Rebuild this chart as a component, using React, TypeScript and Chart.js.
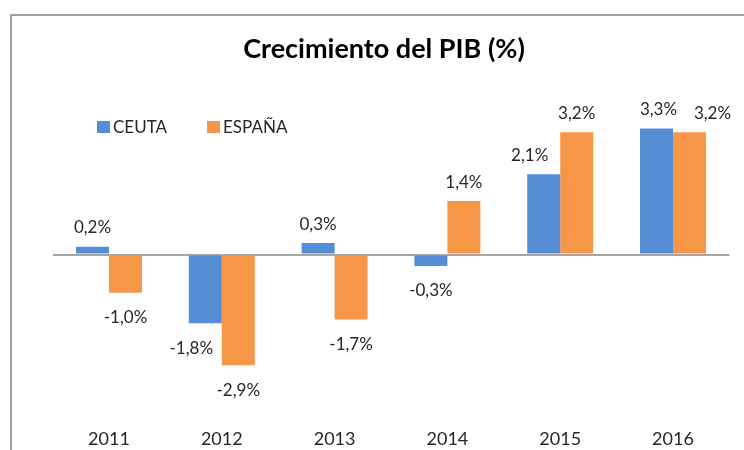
import React, { useEffect, useRef } from "react";
import { Chart, registerables } from "chart.js";

Chart.register(...registerables);

const categories = ["2011", "2012", "2013", "2014", "2015", "2016"];
const ceutaValues = [0.2, -1.8, 0.3, -0.3, 2.1, 3.3];
const espanaValues = [-1.0, -2.9, -1.7, 1.4, 3.2, 3.2];
const seriesNames = ["CEUTA", "ESPAÑA"];
const chartTitle = "Crecimiento del PIB (%)";

// manual horizontal nudges of some data labels (dataset-index:point-index -> px), as in the original
const labelNudge: Record<string, number> = { "0:1": -14, "0:4": -14, "0:5": 2, "1:5": 23 };

const BLUE = "#558ED5";
const ORANGE = "#F79646";
const TEXT = "#262626";
const FONT = "Lato, 'Open Sans', sans-serif";

const fmt = (v: number) => v.toFixed(1).replace(".", ",") + "%";

const decorPlugin = {
  id: "decor",
  afterDatasetsDraw(chart: any) {
    const ctx = chart.ctx;
    ctx.save();
    // data labels
    ctx.font = `17px ${FONT}`;
    ctx.fillStyle = TEXT;
    ctx.textAlign = "center";
    ctx.textBaseline = "middle";
    chart.data.datasets.forEach((ds: any, di: number) => {
      const meta = chart.getDatasetMeta(di);
      meta.data.forEach((bar: any, i: number) => {
        const v = ds.data[i];
        const y = v >= 0 ? bar.y - 19 : bar.y + 25;
        const dx = labelNudge[`${di}:${i}`] || 0;
        ctx.fillText(fmt(v), bar.x + dx, y);
      });
    });
    // title
    ctx.font = `bold 27px ${FONT}`;
    ctx.fillStyle = "#000000";
    ctx.fillText(chartTitle, 384, 49);
    // legend
    ctx.font = `17px ${FONT}`;
    ctx.textAlign = "left";
    const legendX = [97, 207];
    chart.data.datasets.forEach((ds: any, di: number) => {
      ctx.fillStyle = ds.backgroundColor;
      ctx.fillRect(legendX[di], 121, 13, 12);
      ctx.fillStyle = TEXT;
      ctx.fillText(ds.label, legendX[di] + 16, 128);
    });
    ctx.restore();
  },
};

export default function App() {
  const ref = useRef<HTMLCanvasElement | null>(null);
  useEffect(() => {
    if (!ref.current) return;
    const chart = new Chart(ref.current, {
      type: "bar",
      data: {
        labels: categories,
        datasets: [
          {
            label: seriesNames[0],
            data: ceutaValues,
            backgroundColor: BLUE,
            borderWidth: 0,
            categoryPercentage: 0.585,
            barPercentage: 1,
          },
          {
            label: seriesNames[1],
            data: espanaValues,
            backgroundColor: ORANGE,
            borderWidth: 0,
            categoryPercentage: 0.585,
            barPercentage: 1,
          },
        ],
      },
      options: {
        animation: false,
        responsive: false,
        maintainAspectRatio: false,
        layout: { padding: { left: 52.6, right: 744 - 729.4, top: 101.7, bottom: 0 } },
        plugins: {
          legend: { display: false },
          title: { display: false },
          tooltip: { enabled: false },
        },
        scales: {
          x: {
            grid: { display: false, drawTicks: false },
            border: { display: false },
            ticks: {
              color: TEXT,
              font: { family: FONT, size: 18 },
              padding: 21,
              maxRotation: 0,
            },
            afterFit(scale: any) {
              scale.height = 450 - 407.3;
            },
          },
          y: {
            min: -4,
            max: 4,
            ticks: { display: false, stepSize: 1 },
            border: { display: false },
            grid: {
              drawTicks: false,
              color: (c: any) => (c.tick && c.tick.value === 0 ? "#A6A6A6" : "transparent"),
              lineWidth: 2,
            },
            afterFit(scale: any) {
              scale.width = 0;
            },
          },
        },
      },
      plugins: [decorPlugin],
    });
    return () => chart.destroy();
  }, []);

  return (
    <div style={{ position: "fixed", left: 0, top: 0, width: 744, height: 450, background: "#fff" }}>
      <div
        style={{
          position: "absolute",
          left: 10,
          top: 14,
          width: 760,
          height: 460,
          borderLeft: "2px solid #A0A0A0",
          borderTop: "2px solid #A0A0A0",
        }}
      />
      <canvas ref={ref} width={744} height={450} style={{ position: "absolute", left: 0, top: 0 }} />
    </div>
  );
}
